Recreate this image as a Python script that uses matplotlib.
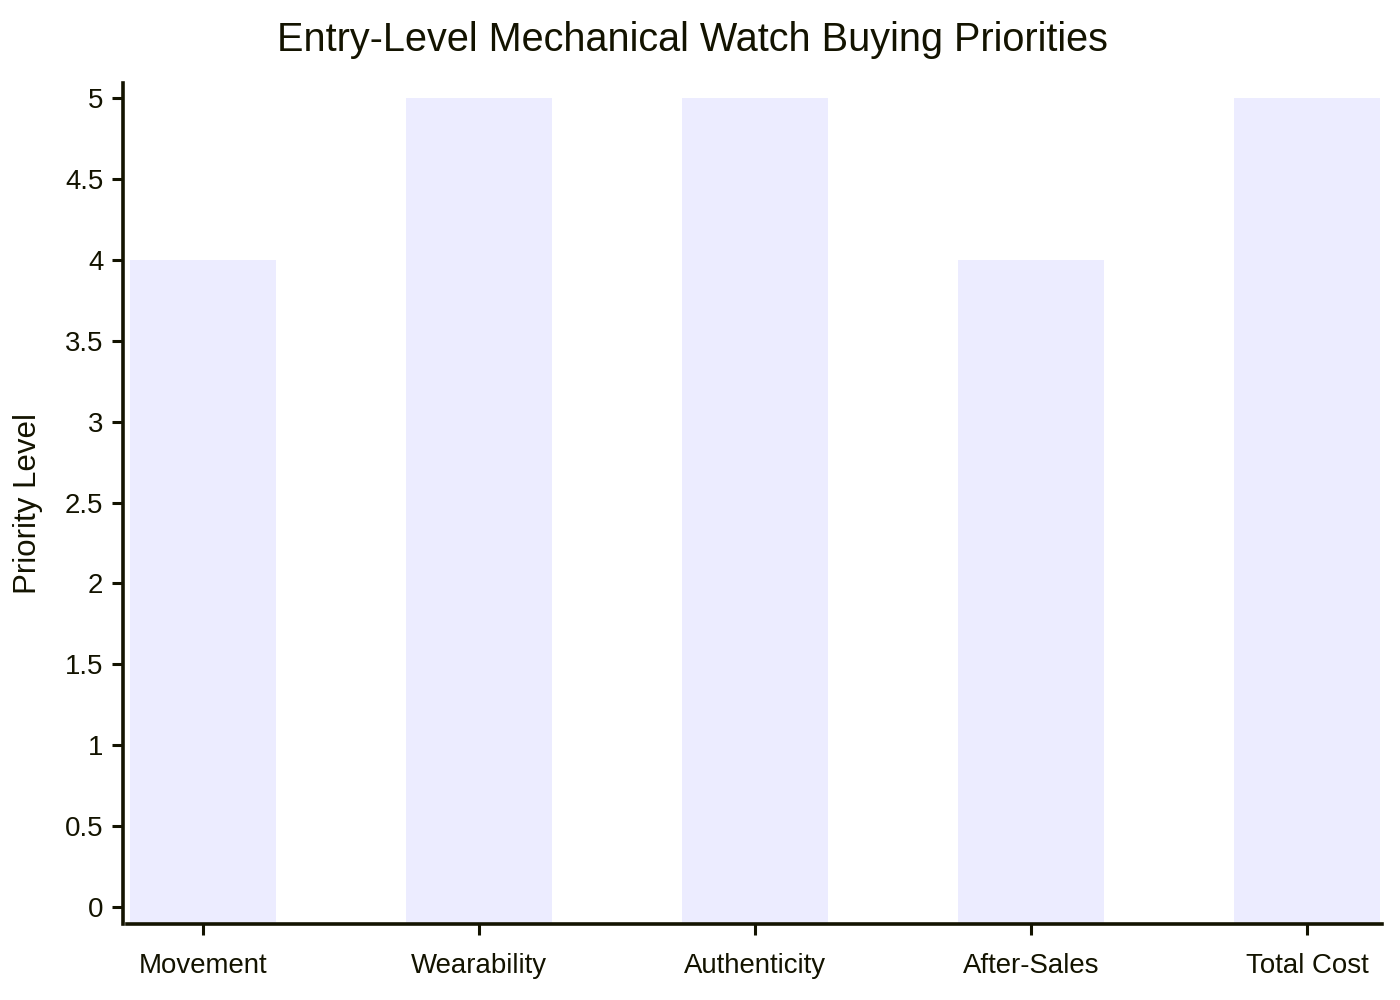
import matplotlib
matplotlib.use("Agg")
import matplotlib.pyplot as plt
from matplotlib.ticker import MultipleLocator, FuncFormatter

categories = ["Movement", "Wearability", "Authenticity", "After-Sales", "Total Cost"]
priority = [4, 5, 5, 4, 5]
title = "Entry-Level Mechanical Watch Buying Priorities"
ylabel = "Priority Level"

plt.rcParams['font.family'] = ['Liberation Sans', 'DejaVu Sans']
ink = "#131300"
bar_color = "#ECECFF"

fig = plt.figure(figsize=(14, 10), dpi=100)
ax = fig.add_axes([127/1400, 1-924/1000, (1382-127)/1400, (924-83)/1000])

ymin, ymax = -0.105, 5.093
x = list(range(len(categories)))
ax.bar(x, [v - ymin for v in priority], bottom=ymin, width=0.527, color=bar_color, edgecolor='none')

ax.set_xlim(-0.275, 4.272)
ax.set_ylim(ymin, ymax)
ax.set_xticks(x)
ax.set_xticklabels(categories)
ax.yaxis.set_major_locator(MultipleLocator(0.5))
ax.yaxis.set_major_formatter(FuncFormatter(lambda v, p: f"{v:g}"))

for s in ["top", "right"]:
    ax.spines[s].set_visible(False)
ax.spines["left"].set_position(("outward", 3))
for s in ["left", "bottom"]:
    ax.spines[s].set_linewidth(2.6)
    ax.spines[s].set_color(ink)

ax.tick_params(axis='both', colors=ink, width=2.2, length=8, labelsize=19.9)
ax.tick_params(axis='x', pad=13)
ax.tick_params(axis='y', pad=6)

ax.set_ylabel(ylabel, fontsize=22.5, color=ink, labelpad=16)
fig.text(692/1400, 1-40/1000, title, ha='center', va='center', fontsize=28.5, color=ink)

fig.savefig("out.png", dpi=100, facecolor="white")
